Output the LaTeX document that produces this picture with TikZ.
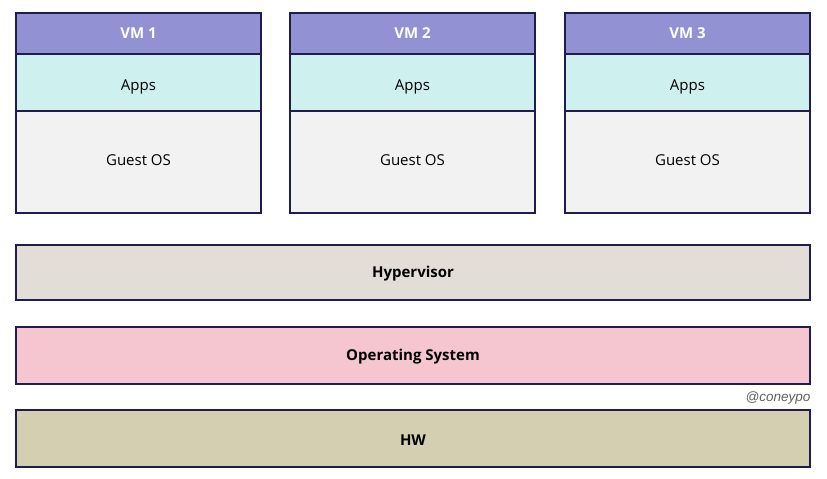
\documentclass[tikz,border=0pt]{standalone}
\usepackage{fontspec}
\setmainfont{Open Sans}
\newfontfamily\tagfont{Liberation Sans}
\usetikzlibrary{positioning}
\definecolor{Navy}{RGB}{31,29,78}
\definecolor{VMHead}{RGB}{145,145,211}
\definecolor{AppsFill}{RGB}{206,240,238}
\definecolor{GuestFill}{RGB}{242,242,242}
\definecolor{HypFill}{RGB}{227,221,215}
\definecolor{OSFill}{RGB}{245,198,208}
\definecolor{HWFill}{RGB}{212,207,176}
\definecolor{TagGray}{RGB}{95,95,95}

\begin{document}
\begin{tikzpicture}[x=1pt,y=-1pt,
    box/.style={draw=Navy,line width=1.6pt,outer sep=0pt,minimum width=245pt,inner sep=0pt,
      text height=10.7pt,text depth=0pt,font=\fontsize{15}{18}\selectfont},
    vmhead/.style={box,fill=VMHead,text=white,font=\fontsize{15}{18}\selectfont\bfseries,minimum height=41pt},
    apps/.style={box,fill=AppsFill,minimum height=57pt,text height=15.7pt},
    guest/.style={box,fill=GuestFill,minimum height=102pt,text depth=3pt},
    layer/.style={box,minimum width=794pt,minimum height=57pt,font=\fontsize{15}{18}\selectfont\bfseries}
]
\useasboundingbox (0,0) rectangle (827,479);

% VM stacks
\foreach \i/\x in {1/138.5,2/412.5,3/687.5}{
  \node[vmhead] (vm\i) at (\x,33.5) {VM \i};
  \node[apps,below=0pt of vm\i] (apps\i) {Apps};
  \node[guest,below=0pt of apps\i] (guest\i) {Guest OS};
}

% Layers
\node[layer,fill=HypFill,minimum height=55pt] (hyp) at (413,272.5) {Hypervisor};
\node[layer,fill=OSFill] (os) at (413,355.5) {Operating System};
\node[layer,fill=HWFill,text height=13.7pt] (hw) at (413,438.5) {HW};

% Tag
\node[font=\tagfont\itshape\fontsize{13.5}{16}\selectfont,text=TagGray,anchor=east,inner sep=0pt] (tag) at (810.5,398) {@coneypo};

\end{tikzpicture}
\end{document}
